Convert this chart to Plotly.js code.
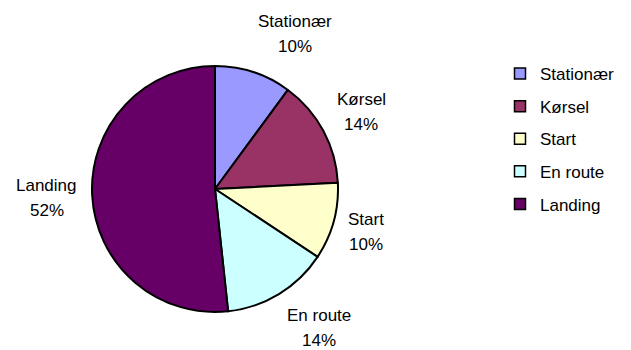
<!DOCTYPE html>
<html>
<head>
<meta charset="utf-8">
<script src="https://cdn.plot.ly/plotly-3.0.1.min.js"></script>
<style>html,body{margin:0;padding:0;background:#fff;}#chart{width:631px;height:350px;}</style>
</head>
<body>
<div id="chart"></div>
<script>
// ---- data ----
const labels = ['Stationær', 'Kørsel', 'Start', 'En route', 'Landing'];
const values = [10.1, 14.1, 10.1, 14.0, 51.7];
const colors = ['#9999FF', '#993366', '#FFFFCC', '#CCFFFF', '#660066'];

// ---- layout constants ----
const W = 631, H = 350;
const CX = 215, CY = 189, R = 123;
const LABEL_R = 138;
const LINE_GAP = 25;
const FONT = 'Liberation Sans, Arial, sans-serif';
const FSIZE = 17;

const ctx = document.createElement('canvas').getContext('2d');
ctx.font = FSIZE + 'px "Liberation Sans"';
const tw = s => ctx.measureText(s).width;

const total = values.reduce((a, b) => a + b, 0);
const annotations = [];
let cum = 0;
values.forEach((v, i) => {
  const mid = (cum + v / 2) / total;
  cum += v;
  const th = 2 * Math.PI * mid;
  const s = Math.sin(th), c = Math.cos(th);
  const px = CX + LABEL_R * s, py = CY - LABEL_R * c;
  const pct = Math.round(v / total * 100) + '%';
  const w = Math.max(tw(labels[i]), tw(pct));
  let bx = px;
  if (s > 0.05) bx = px + w / 2; else if (s < -0.05) bx = px - w / 2;
  const by = py - c * LINE_GAP;
  [[labels[i], by - LINE_GAP / 2], [pct, by + LINE_GAP / 2]].forEach(([t, y]) => {
    annotations.push({
      text: t, x: bx / W, y: 1 - y / H, xref: 'paper', yref: 'paper',
      xanchor: 'center', yanchor: 'middle', showarrow: false,
      font: {family: FONT, size: FSIZE, color: '#000'}
    });
  });
});

const traces = [{
  type: 'pie', labels: labels, values: values, sort: false,
  direction: 'clockwise', rotation: 0, textinfo: 'none', hoverinfo: 'label+percent',
  marker: {colors: colors, line: {color: '#000', width: 2}},
  domain: {x: [(CX - R) / W, (CX + R) / W], y: [(H - CY - R) / H, (H - CY + R) / H]},
  showlegend: false
}];
labels.forEach((l, i) => {
  traces.push({
    type: 'scatter', mode: 'markers', x: [null], y: [null], name: l,
    legendgroup: 'g' + i, showlegend: true,
    marker: {symbol: 'square', size: 11, color: colors[i], line: {color: '#000', width: 1.5}}
  });
});

const layout = {
  width: W, height: H, margin: {l: 0, r: 0, t: 0, b: 0},
  paper_bgcolor: '#fff', plot_bgcolor: '#fff',
  xaxis: {visible: false}, yaxis: {visible: false},
  showlegend: true,
  legend: {
    x: (520 - 20) / W, xanchor: 'left', y: 1 - 56 / H, yanchor: 'top',
    traceorder: 'grouped', tracegroupgap: 7.5,
    font: {family: FONT, size: FSIZE, color: '#000'},
    bgcolor: 'rgba(0,0,0,0)', borderwidth: 0
  },
  annotations: annotations
};
Plotly.newPlot('chart', traces, layout, {displayModeBar: false, staticPlot: true});
</script>
</body>
</html>
